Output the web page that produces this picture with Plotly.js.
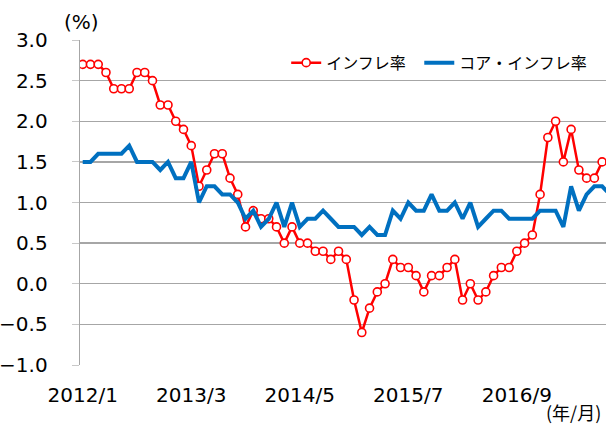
<!DOCTYPE html>
<html>
<head>
<meta charset="utf-8">
<script src="https://cdn.plot.ly/plotly-3.0.1.min.js"></script>
<style>html,body{margin:0;padding:0;background:#fff;}#chart{width:606px;height:424px;}</style>
</head>
<body>
<div id="chart"></div>
<script>
const months = [
 "2012/1","2012/2","2012/3","2012/4","2012/5","2012/6","2012/7","2012/8","2012/9","2012/10","2012/11","2012/12",
 "2013/1","2013/2","2013/3","2013/4","2013/5","2013/6","2013/7","2013/8","2013/9","2013/10","2013/11","2013/12",
 "2014/1","2014/2","2014/3","2014/4","2014/5","2014/6","2014/7","2014/8","2014/9","2014/10","2014/11","2014/12",
 "2015/1","2015/2","2015/3","2015/4","2015/5","2015/6","2015/7","2015/8","2015/9","2015/10","2015/11","2015/12",
 "2016/1","2016/2","2016/3","2016/4","2016/5","2016/6","2016/7","2016/8","2016/9","2016/10","2016/11","2016/12",
 "2017/1","2017/2","2017/3","2017/4","2017/5","2017/6","2017/7","2017/8","2017/9"
];
const inflation = [
 2.7,2.7,2.7,2.6,2.4,2.4,2.4,2.6,2.6,2.5,2.2,2.2,
 2.0,1.9,1.7,1.2,1.4,1.6,1.6,1.3,1.1,0.7,0.9,0.8,
 0.8,0.7,0.5,0.7,0.5,0.5,0.4,0.4,0.3,0.4,0.3,-0.2,
 -0.6,-0.3,-0.1,0.0,0.3,0.2,0.2,0.1,-0.1,0.1,0.1,0.2,
 0.3,-0.2,0.0,-0.2,-0.1,0.1,0.2,0.2,0.4,0.5,0.6,1.1,
 1.8,2.0,1.5,1.9,1.4,1.3,1.3,1.5,1.5
];
const coreInflation = [
 1.5,1.5,1.6,1.6,1.6,1.6,1.7,1.5,1.5,1.5,1.4,1.5,
 1.3,1.3,1.5,1.0,1.2,1.2,1.1,1.1,1.0,0.8,0.9,0.7,
 0.8,1.0,0.7,1.0,0.7,0.8,0.8,0.9,0.8,0.7,0.7,0.7,
 0.6,0.7,0.6,0.6,0.9,0.8,1.0,0.9,0.9,1.1,0.9,0.9,
 1.0,0.8,1.0,0.7,0.8,0.9,0.9,0.8,0.8,0.8,0.8,0.9,
 0.9,0.9,0.7,1.2,0.9,1.1,1.2,1.2,1.1
];
const tickLabels = ["2012/1","2013/3","2014/5","2015/7","2016/9"];
const seriesNames = ["インフレ率","コア・インフレ率"];

const numFont = "DejaVu Sans, Verdana, sans-serif";
const jpFont = "Noto Sans CJK JP, DejaVu Sans, sans-serif";
const gridCol = "#a6a6a6";

const traces = [
 {
  x: months, y: inflation, name: seriesNames[0], type: "scatter", mode: "lines+markers",
  line: {color: "#ff0000", width: 2.5},
  marker: {symbol: "circle", size: 8, color: "#ffffff", line: {color: "#ff0000", width: 1.6}},
  legend: "legend"
 },
 {
  x: months, y: coreInflation, name: seriesNames[1], type: "scatter", mode: "lines",
  line: {color: "#0070c0", width: 4},
  legend: "legend2"
 }
];

const legendBase = {
  orientation: "h", xanchor: "left", y: 0.93, yanchor: "middle",
  font: {family: jpFont, size: 16, color: "#000"},
  bgcolor: "rgba(255,255,255,0)"
};

const layout = {
  width: 606, height: 424,
  margin: {l: 80, r: 0, t: 40, b: 59},
  paper_bgcolor: "#ffffff", plot_bgcolor: "#ffffff",
  showlegend: true,
  legend: Object.assign({}, legendBase, {x: 0.392}),
  legend2: Object.assign({}, legendBase, {x: 0.645}),
  xaxis: {
    type: "category", range: [-0.35, 67.5],
    tickmode: "array", tickvals: tickLabels, ticktext: tickLabels,
    ticks: "", showgrid: false, showline: false, zeroline: false,
    tickfont: {family: numFont, size: 20, color: "#000"},
    ticklabelstandoff: 16
  },
  xaxis2: {
    type: "linear", overlaying: "x", anchor: "free", position: 0.25, side: "bottom",
    range: [-0.35, 67.5], tickmode: "linear", tick0: -0.35, dtick: 14,
    ticks: "outside", ticklen: 6, tickwidth: 1.2, tickcolor: gridCol,
    showticklabels: false, showgrid: false, zeroline: false, showline: false
  },
  yaxis: {
    range: [-1, 3], tickmode: "linear", tick0: -1, dtick: 0.5, tickformat: ".1f",
    showgrid: true, gridcolor: gridCol, gridwidth: 1.3,
    zeroline: false, showline: true, linecolor: gridCol, linewidth: 1.3,
    ticks: "outside", ticklen: 7, tickcolor: "#c8c8c8", tickwidth: 1,
    tickfont: {family: numFont, size: 20, color: "#000"},
    ticklabelstandoff: 20
  },
  annotations: [
    {text: "(%)", xref: "paper", yref: "paper", x: 0.002, y: 1, xanchor: "center", yanchor: "bottom",
     yshift: 4, showarrow: false, font: {family: numFont, size: 20, color: "#000"}},
    {text: "(年/月)", xref: "paper", yref: "paper", x: 1, y: 0, xanchor: "right", yanchor: "middle",
     yshift: -47, xshift: -3, showarrow: false, font: {family: jpFont, size: 18, color: "#000"}}
  ]
};

Plotly.newPlot("chart", traces, layout, {staticPlot: true, displayModeBar: false});
</script>
</body>
</html>
